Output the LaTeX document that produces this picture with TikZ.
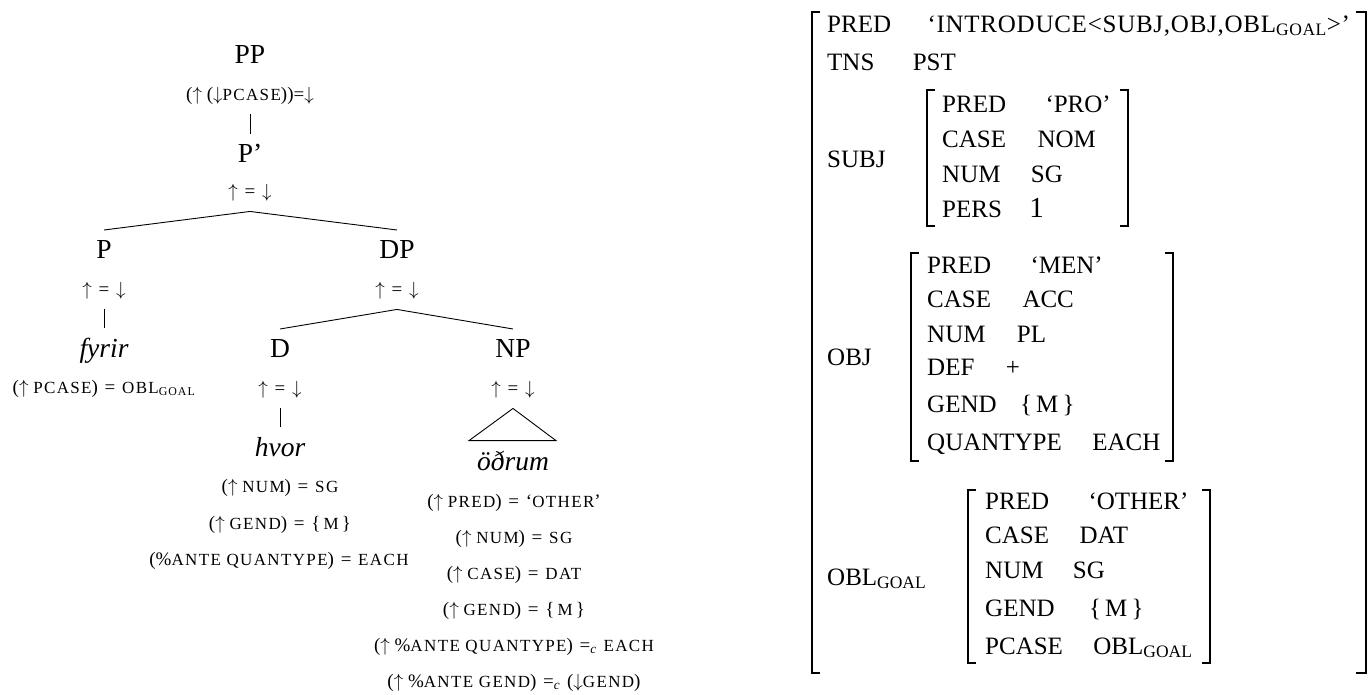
\documentclass[tikz,border=0pt]{standalone}
\usepackage{fix-cm}
\usepackage{fontspec}
\setmainfont{Liberation Serif}
\usepackage{tikz}
\usetikzlibrary{positioning}

\newcommand{\fc}[1]{{\fontsize{17}{18}\selectfont\addfontfeatures{LetterSpace=8}#1}}
\newcommand{\eqs}{\hspace{2pt}=\hspace{2pt}\ }
\newcommand{\eqc}{\hspace{2pt}=\textsubscript{\textit{c}}\hspace{2pt}\ }
\newcommand{\up}{$\uparrow$}
\newcommand{\dn}{$\downarrow$}

\begin{document}
\begin{tikzpicture}[x=1pt,y=-1pt,
  cat/.style={font=\fontsize{27.5}{30}\selectfont,inner sep=0pt,outer ysep=10pt,anchor=base},
  word/.style={cat,font=\fontsize{27.5}{30}\selectfont\itshape},
  fdesc/.style={font=\fontsize{19}{21}\selectfont,inner sep=0pt,outer ysep=10pt,anchor=base},
  feq/.style={fdesc,anchor=center},
  attr/.style={font=\fontsize{25}{27}\selectfont,inner sep=0pt,anchor=base west},
  branch/.style={line width=0.9pt},
  brk/.style={line width=1.8pt}]
  \useasboundingbox (0,0) rectangle (1368,694);

  % c-structure
  \node[cat] (pp) at (250,63) {PP};
  \node[fdesc] (pp-f) at (250,100) {(\up\ (\dn\fc{PCASE}))=\dn};
  \node[cat] (pbar) at (250,162) {P'};
  \node[feq] (pbar-f) at (250,193) {\up\ \eqs \dn};
  \node[cat] (p) at (104,258) {P};
  \node[cat] (dp) at (397,258) {DP};
  \node[feq] (p-f) at (104,291) {\up\ \eqs \dn};
  \node[feq] (dp-f) at (397,291) {\up\ \eqs \dn};
  \node[word] (fyrir) at (104,357) {fyrir};
  \node[fdesc] (fyrir-f) at (104,393) {(\up\ \fc{PCASE}) \eqs \fc{OBL\textsubscript{GOAL}}};
  \node[cat] (d) at (280,357) {D};
  \node[cat] (np) at (513,357) {NP};
  \node[feq] (d-f) at (280,390) {\up\ \eqs \dn};
  \node[feq] (np-f) at (513,390) {\up\ \eqs \dn};
  \node[word] (hvor) at (280,456) {hvor};
  \node[word] (odrum) at (513,470) {öðrum};

  \node[fdesc] (hvor-f1) at (280,492) {(\up\ \fc{NUM}) \eqs \fc{SG}};
  \node[fdesc] (hvor-f2) at (280,529) {(\up\ \fc{GEND}) \eqs \{\,\fc{M}\,\}};
  \node[fdesc] (hvor-f3) at (279,565) {(\%\fc{ANTE QUANTYPE}) \eqs \fc{EACH}};

  \node[fdesc] (odrum-f1) at (514,507) {(\up\ \fc{PRED}) \eqs `\fc{OTHER}'};
  \node[fdesc] (odrum-f2) at (514,543) {(\up\ \fc{NUM}) \eqs \fc{SG}};
  \node[fdesc] (odrum-f3) at (514,579) {(\up\ \fc{CASE}) \eqs \fc{DAT}};
  \node[fdesc] (odrum-f4) at (514,615) {(\up\ \fc{GEND}) \eqs \{\,\fc{M}\,\}};
  \node[fdesc] (odrum-f5) at (514,651) {(\up\ \%\fc{ANTE QUANTYPE}) \eqc \fc{EACH}};
  \node[fdesc] (odrum-f6) at (514,687) {(\up\ \%\fc{ANTE GEND}) \eqc (\dn\fc{GEND})};

  \draw[branch] (pp-f.south) -- (pbar.north);
  \draw[branch] (pbar-f.south) -- (p.north);
  \draw[branch] (pbar-f.south) -- (dp.north);
  \draw[branch] (p-f.south) -- (fyrir.north);
  \draw[branch] (dp-f.south) -- (d.north);
  \draw[branch] (dp-f.south) -- (np.north);
  \draw[branch] (d-f.south) -- (hvor.north);
  \draw[branch] (np-f.south) -- ([xshift=-44pt]odrum.north) -- ([xshift=43pt]odrum.north) -- cycle;

  % f-structure
  \draw[brk] (820,12) -- (812,12) -- (812,673) -- (820,673);
  \draw[brk] (1356,12) -- (1366,12) -- (1366,673) -- (1356,673);

  \node[attr] (f-pred) at (827,32) {PRED};
  \node[attr,base right=36pt of f-pred] (f-pred-v) {\addfontfeatures{LetterSpace=3}`INTRODUCE<SUBJ,OBJ,OBL\textsubscript{GOAL}>'};
  \node[attr] (f-tns) at (827,70) {TNS};
  \node[attr,base right=38pt of f-tns] (f-tns-v) {PST};

  \node[attr] (f-subj) at (827,167) {SUBJ};
  \draw[brk] (935,90) -- (927,90) -- (927,226) -- (935,226);
  \draw[brk] (1120,90) -- (1128,90) -- (1128,226) -- (1120,226);
  \node[attr] (subj-pred) at (942,112) {PRED};
  \node[attr,base right=39pt of subj-pred] (subj-pred-v) {`PRO'};
  \node[attr] (subj-case) at (942,147) {CASE};
  \node[attr,base right=31pt of subj-case] (subj-case-v) {NOM};
  \node[attr] (subj-num) at (942,182) {NUM};
  \node[attr,base right=30pt of subj-num] (subj-num-v) {SG};
  \node[attr] (subj-pers) at (942,217) {PERS};
  \node[attr,font=\fontsize{29}{30}\selectfont,base right=27pt of subj-pers] (subj-pers-v) {1};

  \node[attr] (f-obj) at (827,365) {OBJ};
  \draw[brk] (919,253) -- (911,253) -- (911,461) -- (919,461);
  \draw[brk] (1165,253) -- (1173,253) -- (1173,461) -- (1165,461);
  \node[attr] (obj-pred) at (927,273) {PRED};
  \node[attr,base right=39pt of obj-pred] (obj-pred-v) {`MEN'};
  \node[attr] (obj-case) at (927,307) {CASE};
  \node[attr,base right=31pt of obj-case] (obj-case-v) {ACC};
  \node[attr] (obj-num) at (927,342) {NUM};
  \node[attr,base right=31pt of obj-num] (obj-num-v) {PL};
  \node[attr] (obj-def) at (927,375) {DEF};
  \node[attr,base right=31pt of obj-def] (obj-def-v) {+};
  \node[attr] (obj-gend) at (927,412) {GEND};
  \node[attr,base right=23pt of obj-gend] (obj-gend-v) {\{\,M\,\}};
  \node[attr] (obj-quant) at (927,450) {QUANTYPE};
  \node[attr,base right=30pt of obj-quant] (obj-quant-v) {EACH};

  \node[attr] (f-obl) at (827,585) {OBL\textsubscript{GOAL}};
  \draw[brk] (976,490) -- (968,490) -- (968,663) -- (976,663);
  \draw[brk] (1202,490) -- (1210,490) -- (1210,663) -- (1202,663);
  \node[attr] (obl-pred) at (985,509) {PRED};
  \node[attr,base right=39pt of obl-pred] (obl-pred-v) {`OTHER'};
  \node[attr] (obl-case) at (985,543) {CASE};
  \node[attr,base right=30pt of obl-case] (obl-case-v) {DAT};
  \node[attr] (obl-num) at (985,578) {NUM};
  \node[attr,base right=29pt of obl-num] (obl-num-v) {SG};
  \node[attr] (obl-gend) at (985,616) {GEND};
  \node[attr,base right=34pt of obl-gend] (obl-gend-v) {\{\,M\,\}};
  \node[attr] (obl-pcase) at (985,654) {PCASE};
  \node[attr,base right=30pt of obl-pcase] (obl-pcase-v) {OBL\textsubscript{GOAL}};
\end{tikzpicture}
\end{document}
